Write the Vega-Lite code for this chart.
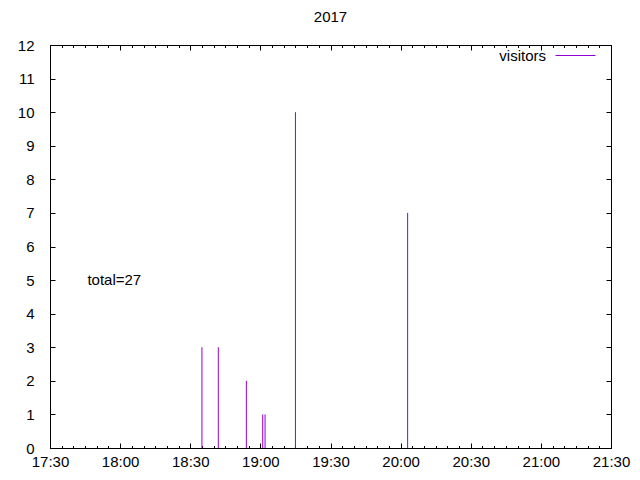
{
  "$schema": "https://vega.github.io/schema/vega-lite/v6.json",
  "width": 561,
  "height": 403,
  "autosize": {"type": "none"},
  "padding": {"left": 50, "top": 45, "right": 29, "bottom": 32},
  "background": "white",
  "title": {"text": "2017", "font": "Liberation Sans", "fontSize": 15, "fontWeight": "normal", "color": "black", "offset": 10},
  "config": {
    "view": {"stroke": "black", "strokeWidth": 1},
    "axis": {"domainColor": "black", "tickColor": "black", "labelColor": "black", "labelFont": "Liberation Sans", "labelFontSize": 15, "grid": false, "labelFlush": false, "labelOverlap": false},
    "legend": {"labelFont": "Liberation Sans", "labelFontSize": 15, "labelColor": "black", "padding": 0}
  },
  "data": {"values": [
    {"minute": 1115, "v": 3, "series": "visitors"},
    {"minute": 1122, "v": 3, "series": "visitors"},
    {"minute": 1134, "v": 2, "series": "visitors"},
    {"minute": 1141, "v": 1, "series": "visitors"},
    {"minute": 1142, "v": 1, "series": "visitors"},
    {"minute": 1155, "v": 10, "series": "visitors"},
    {"minute": 1203, "v": 7, "series": "visitors"}
  ]},
  "resolve": {"axis": {"x": "independent", "y": "independent"}},
  "layer": [
    {
      "mark": {"type": "rule", "strokeWidth": 1},
      "encoding": {
        "x": {"field": "minute", "type": "quantitative",
          "scale": {"domain": [1050, 1290], "nice": false, "zero": false},
          "axis": {"title": null, "orient": "bottom", "values": [1050, 1080, 1110, 1140, 1170, 1200, 1230, 1260, 1290],
            "labelExpr": "floor(datum.value / 60) + ':' + (datum.value % 60 == 0 ? '00' : '30')",
            "tickSize": -5, "labelPadding": 11}},
        "y": {"field": "v", "type": "quantitative",
          "scale": {"domain": [0, 12], "nice": false},
          "axis": {"title": null, "orient": "left", "values": [0,1,2,3,4,5,6,7,8,9,10,11,12], "tickSize": -5, "labelPadding": 21}},
        "y2": {"datum": 0},
        "color": {"field": "series", "type": "nominal", "scale": {"range": ["#9400d3"]},
          "legend": {"title": null, "orient": "none", "legendX": 505, "legendY": -10, "symbolType": "stroke", "symbolSize": 1600, "symbolStrokeWidth": 1, "labelAlign": "right", "labelOffset": -50}}
      }
    },
    {
      "mark": {"type": "rule", "strokeWidth": 1, "opacity": 0},
      "encoding": {
        "x": {"field": "minute", "type": "quantitative",
          "axis": {"title": null, "orient": "top", "labels": false, "values": [1050, 1080, 1110, 1140, 1170, 1200, 1230, 1260, 1290], "tickSize": -5}},
        "y": {"field": "v", "type": "quantitative",
          "axis": {"title": null, "orient": "right", "labels": false, "values": [0,1,2,3,4,5,6,7,8,9,10,11,12], "tickSize": -5}},
        "y2": {"datum": 0}
      }
    },
    {
      "mark": {"type": "rule", "strokeWidth": 1, "opacity": 0},
      "encoding": {
        "x": {"field": "minute", "type": "quantitative",
          "axis": {"title": null, "orient": "bottom", "labels": false, "domain": false, "tickSize": -2.5,
            "values": [1055,1060,1065,1070,1075,1085,1090,1095,1100,1105,1115,1120,1125,1130,1135,1145,1150,1155,1160,1165,1175,1180,1185,1190,1195,1205,1210,1215,1220,1225,1235,1240,1245,1250,1255,1265,1270,1275,1280,1285]}},
        "y": {"field": "v", "type": "quantitative", "axis": null},
        "y2": {"datum": 0}
      }
    },
    {
      "mark": {"type": "rule", "strokeWidth": 1, "opacity": 0},
      "encoding": {
        "x": {"field": "minute", "type": "quantitative",
          "axis": {"title": null, "orient": "top", "labels": false, "domain": false, "tickSize": -2.5,
            "values": [1055,1060,1065,1070,1075,1085,1090,1095,1100,1105,1115,1120,1125,1130,1135,1145,1150,1155,1160,1165,1175,1180,1185,1190,1195,1205,1210,1215,1220,1225,1235,1240,1245,1250,1255,1265,1270,1275,1280,1285]}},
        "y": {"field": "v", "type": "quantitative", "axis": null},
        "y2": {"datum": 0}
      }
    },
    {
      "data": {"values": [{"minute": 1066, "v": 5, "label": "total=27"}]},
      "mark": {"type": "text", "align": "left", "baseline": "middle", "font": "Liberation Sans", "fontSize": 15, "color": "black"},
      "encoding": {
        "x": {"field": "minute", "type": "quantitative", "axis": null},
        "y": {"field": "v", "type": "quantitative", "axis": null},
        "text": {"field": "label"}
      }
    }
  ]
}
